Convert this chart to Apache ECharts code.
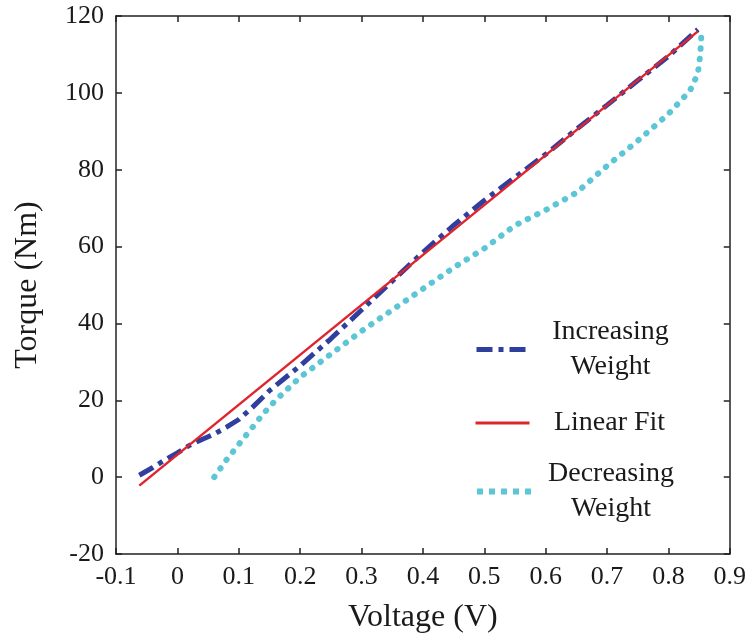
<!DOCTYPE html>
<html>
<head>
<meta charset="utf-8">
<script src="https://cdn.jsdelivr.net/npm/echarts@6/dist/echarts.min.js"></script>
<style>html,body{margin:0;padding:0;background:#fff;}#c{width:749px;height:639px;}</style>
</head>
<body>
<div id="c"></div>
<script>
// Axis ticks
var xTicks = [-0.1, 0, 0.1, 0.2, 0.3, 0.4, 0.5, 0.6, 0.7, 0.8, 0.9];
var yTicks = [-20, 0, 20, 40, 60, 80, 100, 120];

// Series data [voltage, torque]
var increasingWeight = [
  [-0.062, 0.5], [-0.04, 2.5], [-0.02, 4.5], [0, 6.3], [0.02, 8.3], [0.04, 9.8],
  [0.06, 11.2], [0.08, 13], [0.1, 15], [0.12, 17.8], [0.15, 22.5], [0.2, 29],
  [0.25, 36], [0.3, 43.5], [0.35, 51], [0.4, 58.5], [0.45, 65.5], [0.5, 72],
  [0.55, 78], [0.6, 84], [0.65, 90.5], [0.7, 96.8], [0.75, 103.2], [0.8, 109.5],
  [0.848, 116.5]
];
var linearFit = [[-0.062, -2.2], [0.848, 116]];
var decreasingWeight = [
  [0.06, 0], [0.08, 4.5], [0.1, 8.5], [0.12, 12.5], [0.14, 16.5], [0.16, 20],
  [0.18, 23], [0.2, 26], [0.25, 32], [0.3, 38], [0.35, 43.5], [0.4, 49],
  [0.45, 54.5], [0.5, 59.5], [0.55, 65.5], [0.6, 69.5], [0.65, 74], [0.7, 81],
  [0.75, 87.5], [0.8, 94.5], [0.835, 100.5], [0.848, 105], [0.852, 110], [0.854, 116]
];
var seriesNames = ['Increasing Weight', 'Linear Fit', 'Decreasing Weight'];
var legendLabels = {
  'Increasing Weight': 'Increasing\nWeight',
  'Linear Fit': 'Linear Fit',
  'Decreasing Weight': 'Decreasing\nWeight'
};

var FONT = 'Liberation Serif';
var styles = {
  'Increasing Weight': { color: '#2f3f9e', width: 5, type: [16, 6, 5, 6], cap: 'butt' },
  'Linear Fit': { color: '#e0242c', width: 3, type: 'solid', cap: 'butt' },
  'Decreasing Weight': { color: '#5cc6d6', width: 6, type: [6, 6], cap: 'butt' }
};
var chart = echarts.init(document.getElementById('c'), null, {renderer: 'canvas'});

function legendFor(name, top) {
  var s = styles[name];
  return {
    data: [name], orient: 'vertical', left: 474, top: top, padding: 0,
    itemWidth: 54, itemHeight: 14,
    itemStyle: { opacity: 0 },
    lineStyle: { color: s.color, width: s.width, type: s.type, cap: s.cap, opacity: 1 },
    formatter: function (n) {
      return legendLabels[n].split('\n').map(function (t) { return '{a|' + t + '}'; }).join('\n');
    },
    textStyle: {
      rich: { a: { fontFamily: FONT, fontSize: 28, color: '#1a1a1a', width: 150, align: 'center', lineHeight: 35 } }
    }
  };
}

var axisLine = { show: true, onZero: false, lineStyle: { color: '#222', width: 1.5 } };
var axisTick = { show: true, inside: true, length: 6, lineStyle: { color: '#222', width: 1.5 } };

chart.setOption({
  animation: false,
  backgroundColor: '#fff',
  grid: { left: 116, right: 18, top: 16, bottom: 83 },
  legend: [
    legendFor(seriesNames[0], 318),
    legendFor(seriesNames[1], 409),
    legendFor(seriesNames[2], 460)
  ],
  xAxis: [{
    type: 'value', position: 'bottom',
    min: xTicks[0], max: xTicks[xTicks.length - 1], interval: 0.1,
    axisLine: axisLine, axisTick: axisTick, splitLine: { show: false },
    axisLabel: { fontFamily: FONT, fontSize: 26, color: '#1a1a1a', margin: 10,
      formatter: function (v) { return String(Math.round(v * 10) / 10); } },
    name: 'Voltage (V)', nameLocation: 'middle', nameGap: 48,
    nameTextStyle: { fontFamily: FONT, fontSize: 32, color: '#1a1a1a' }
  }, {
    type: 'value', position: 'top',
    min: xTicks[0], max: xTicks[xTicks.length - 1], interval: 0.1,
    axisLine: axisLine, axisTick: axisTick, splitLine: { show: false },
    axisLabel: { show: false }
  }],
  yAxis: [{
    type: 'value', position: 'left',
    min: yTicks[0], max: yTicks[yTicks.length - 1], interval: 20,
    axisLine: axisLine, axisTick: axisTick, splitLine: { show: false },
    axisLabel: { fontFamily: FONT, fontSize: 26, color: '#1a1a1a', margin: 12 },
    name: 'Torque (Nm)', nameLocation: 'middle', nameGap: 72,
    nameTextStyle: { fontFamily: FONT, fontSize: 32, color: '#1a1a1a' }
  }, {
    type: 'value', position: 'right',
    min: yTicks[0], max: yTicks[yTicks.length - 1], interval: 20,
    axisLine: axisLine, axisTick: axisTick, splitLine: { show: false },
    axisLabel: { show: false }
  }],
  series: [{
    name: seriesNames[0], type: 'line', data: increasingWeight,
    symbol: 'none', z: 2,
    lineStyle: { color: '#2f3f9e', width: 5, type: [16, 6, 5, 6], cap: 'butt' },
    itemStyle: { color: '#2f3f9e' }
  }, {
    name: seriesNames[2], type: 'line', data: decreasingWeight,
    symbol: 'none', z: 3,
    lineStyle: { color: '#5cc6d6', width: 6, type: [0.5, 10], cap: 'round' },
    itemStyle: { color: '#5cc6d6' }
  }, {
    name: seriesNames[1], type: 'line', data: linearFit,
    symbol: 'none', z: 4,
    lineStyle: { color: '#e0242c', width: 2.5 },
    itemStyle: { color: '#e0242c' }
  }]
});
</script>
</body>
</html>
